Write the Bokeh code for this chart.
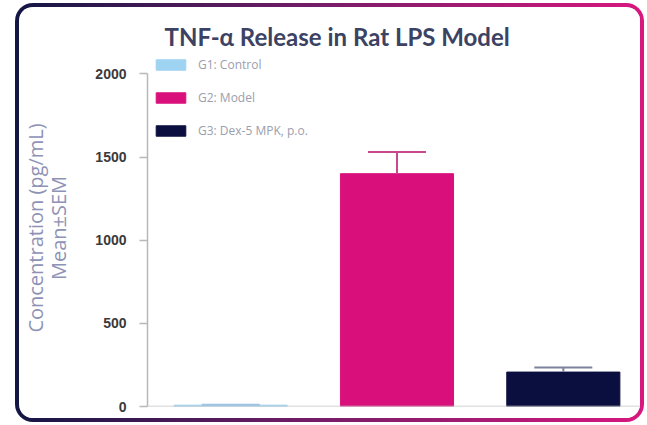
from bokeh.plotting import figure
from bokeh.models import (ColumnDataSource, Legend, LegendItem, Whisker, TeeHead,
                          Span, Range1d, FixedTicker, Title)
from bokeh.embed import file_html
from bokeh.resources import INLINE

# ---- data ----
groups = ["G1: Control", "G2: Model", "G3: Dex-5 MPK, p.o."]
xpos = [1, 2, 3]
means = [8, 1400, 207]
sems = [2, 130, 27]
bar_colors = ["#9fd3f2", "#d9107c", "#0b0f3f"]
err_colors = ["#9fc3e0", "#c8488e", "#7d839c"]
yticks = [0, 500, 1000, 1500, 2000]

p = figure(width=629, height=419, output_backend="svg", toolbar_location=None,
           x_range=Range1d(0.5, 3.464), y_range=Range1d(0, 2147),
           min_border_left=126, min_border_right=8, min_border_bottom=20,
           min_border_top=42, background_fill_color="white",
           border_fill_color="white")

# card frame with gradient border (pure CSS decoration)
p.styles = {
    "margin-left": "15px",
    "margin-top": "3px",
    "border": "4px solid transparent",
    "border-radius": "18px",
    "background": "linear-gradient(#ffffff,#ffffff) padding-box, "
                  "linear-gradient(90deg,#131644,#7a1d68 50%,#d8177f) border-box",
    "overflow": "hidden",
}

# ---- title ----
p.title = Title(text="TNF-\u03b1 Release in Rat LPS Model", align="left",
                offset=17, text_font="Lato", text_font_size="24px",
                text_font_style="bold", text_color="#3c4263", standoff=-3)

# ---- bars & error bars ----
src = ColumnDataSource(dict(x=xpos, top=means, color=bar_colors, group=groups))
bars = p.vbar(x="x", top="top", width=0.68, source=src,
              fill_color="color", line_color="color")

for i in range(len(groups)):
    wsrc = ColumnDataSource(dict(x=[xpos[i]], lower=[means[i]],
                                 upper=[means[i] + sems[i]]))
    p.add_layout(Whisker(base="x", lower="lower", upper="upper", source=wsrc,
                         level="overlay", line_color=err_colors[i], line_width=2,
                         lower_head=None,
                         upper_head=TeeHead(size=58, line_color=err_colors[i],
                                            line_width=2)))

p.add_layout(Span(location=0, dimension="width", line_color="#c4c4c4",
                  line_width=1.5))

legend = Legend(items=[LegendItem(label=g, renderers=[bars], index=i)
                       for i, g in enumerate(groups)],
                location="top_left", margin=5, padding=11,
                glyph_width=37, glyph_height=13, label_height=20,
                spacing=13, label_standoff=9,
                label_text_font="Open Sans", label_text_font_size="12px",
                label_text_color="#9a9eae", border_line_color=None,
                background_fill_alpha=0)
p.add_layout(legend)

p.xaxis.visible = False
p.xgrid.visible = False
p.ygrid.visible = False
p.outline_line_color = None

ya = p.yaxis[0]
ya.ticker = FixedTicker(ticks=yticks)
ya.bounds = (0, 2000)
ya.minor_tick_line_color = None
ya.axis_line_color = "#b8b8b8"
ya.axis_line_width = 1.5
ya.major_tick_line_color = "#b8b8b8"
ya.major_tick_line_width = 1.5
ya.major_tick_out = 8
ya.major_tick_in = 0
ya.major_label_text_font = "Liberation Sans"
ya.major_label_text_font_style = "bold"
ya.major_label_text_font_size = "14px"
ya.major_label_text_color = "#3a3a3a"
ya.major_label_standoff = 13
ya.axis_label = "Concentration (pg/mL)\nMean\u00b1SEM"
ya.axis_label_text_font = "Open Sans"
ya.axis_label_text_font_style = "normal"
ya.axis_label_text_font_size = "20px"
ya.axis_label_text_line_height = 0.85
ya.axis_label_text_color = "#8e93b6"
ya.axis_label_standoff = 20

open("out.html", "w").write(file_html(p, INLINE))
